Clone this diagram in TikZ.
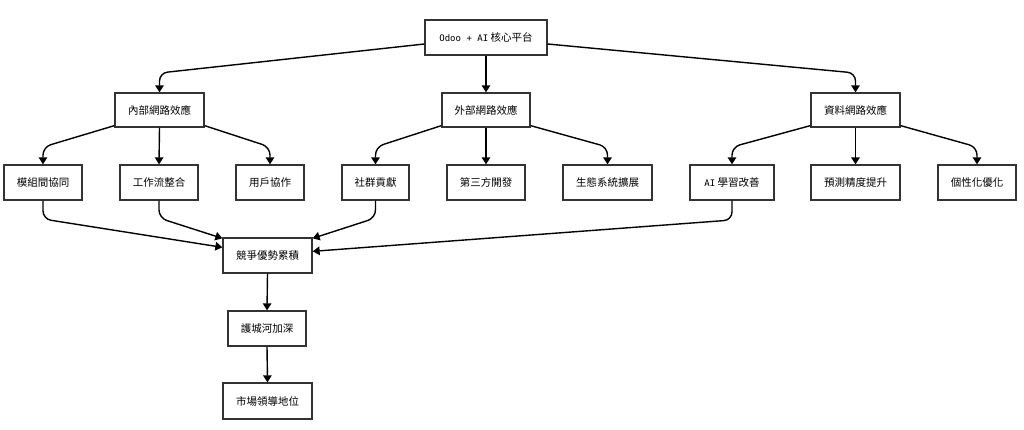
\documentclass[tikz,border=0pt]{standalone}
\usepackage{fontspec}
\setmainfont{Noto Sans CJK TC}
\newfontfamily\lat{DejaVu Sans Mono}[Scale=0.86]
\usetikzlibrary{arrows.meta,calc,shadows}
\definecolor{edgec}{HTML}{333333}
\tikzset{
  box/.style={draw=edgec, line width=1.3pt, fill=white, minimum height=35pt, inner sep=0pt,
    font=\fontsize{10.5}{12}\selectfont,
    drop shadow={shadow xshift=1.2pt, shadow yshift=-1.2pt, opacity=0.15, fill=black}},
  arr/.style={draw=black, line width=1.4pt, rounded corners=8pt, -{Triangle[length=7pt,width=8.5pt]}}
}
\begin{document}
\begin{tikzpicture}[x=1pt,y=-1pt]
\useasboundingbox[fill=white] (0,0) rectangle (1024,430);
% nodes
\node[box, minimum width=122pt] (root) at (486,37.5) {{\lat Odoo + AI} 核心平台};
\node[box, minimum width=89pt, minimum height=34pt] (inner) at (159.5,110) {內部網路效應};
\node[box, minimum width=88pt, minimum height=34pt] (outer) at (486,110) {外部網路效應};
\node[box, minimum width=89pt, minimum height=34pt] (data) at (855.5,110) {資料網路效應};
\node[box, minimum width=78pt] (m1) at (43,182.5) {模組間協同};
\node[box, minimum width=78pt] (m2) at (159,182.5) {工作流整合};
\node[box, minimum width=68pt] (m3) at (270,182.5) {用戶協作};
\node[box, minimum width=67pt] (e1) at (375.5,182.5) {社群貢獻};
\node[box, minimum width=78pt] (e2) at (486,182.5) {第三方開發};
\node[box, minimum width=89pt] (e3) at (607.5,182.5) {生態系統擴展};
\node[box, minimum width=84pt] (d1) at (732,182.5) {{\lat AI} 學習改善};
\node[box, minimum width=89pt] (d2) at (855.5,182.5) {預測精度提升};
\node[box, minimum width=78pt] (d3) at (977,182.5) {個性化優化};
\node[box, minimum width=89pt] (comp) at (267.5,255.5) {競爭優勢累積};
\node[box, minimum width=78pt] (moat) at (267,328.5) {護城河加深};
\node[box, minimum width=89pt, minimum height=36pt] (lead) at (267.5,401) {市場領導地位};
% edges level 1
\draw[arr] ($(root.west)+(0,6.5)$) -- (159.5,73) -- (inner.north);
\draw[arr] (root.south) -- (outer.north);
\draw[arr] ($(root.east)+(0,6.5)$) -- (855.5,73) -- (data.north);
% edges level 2
\draw[arr] ($(inner.south west)+(0,-2)$) -- (43,147) -- (m1.north);
\draw[arr] (inner.south) -- (m2.north);
\draw[arr] ($(inner.south east)+(0,-2)$) -- (270,147) -- (m3.north);
\draw[arr] ($(outer.south west)+(0,-2)$) -- (375.5,147) -- (e1.north);
\draw[arr] (outer.south) -- (e2.north);
\draw[arr] ($(outer.south east)+(0,-2)$) -- (607.5,147) -- (e3.north);
\draw[arr] ($(data.south west)+(0,-2)$) -- (732,147) -- (d1.north);
\draw[arr] (data.south) -- (d2.north);
\draw[arr] ($(data.south east)+(0,-2)$) -- (977,147) -- (d3.north);
% edges to comp
\draw[arr] (m1.south) -- (43,219) -- ($(comp.north west)+(0,10)$);
\draw[arr] (m2.south) -- (159,218) -- ($(comp.north west)+(0,1)$);
\draw[arr] (e1.south) -- (375.5,218) -- ($(comp.north east)+(0,1)$);
\draw[arr] (d1.south) -- (732,220) -- ($(comp.north east)+(0,14)$);
\draw[arr] (comp.south) -- (moat.north);
\draw[arr] (moat.south) -- (lead.north);
\end{tikzpicture}
\end{document}
